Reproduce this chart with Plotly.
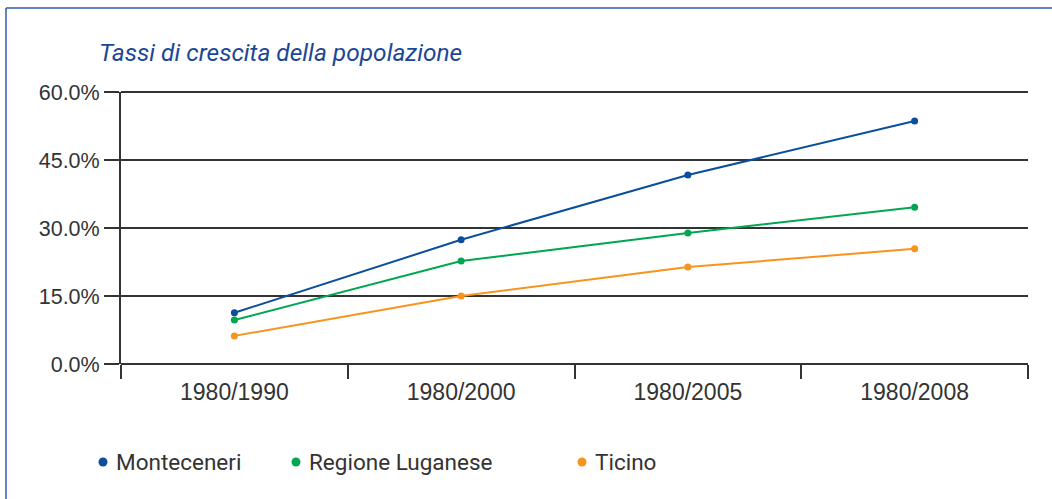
import plotly.graph_objects as go

categories = ["1980/1990", "1980/2000", "1980/2005", "1980/2008"]
monteceneri = [11.3, 27.4, 41.7, 53.6]
regione_luganese = [9.7, 22.7, 28.9, 34.6]
ticino = [6.2, 15.0, 21.4, 25.4]
y_ticks = [0, 15, 30, 45, 60]
y_tick_labels = ["0.0%", "15.0%", "30.0%", "45.0%", "60.0%"]

series = [
    ("Monteceneri", monteceneri, "#0b4f9c"),
    ("Regione Luganese", regione_luganese, "#00a651"),
    ("Ticino", ticino, "#f7941d"),
]

FONT = "Liberation Sans"
NARROW = "Roboto"
TXT = "#333333"
AX = "#333333"

fig = go.Figure()
for name, vals, col in series:
    fig.add_trace(go.Scatter(
        x=categories, y=vals, name=name, mode="lines+markers",
        line=dict(color=col, width=2), marker=dict(color=col, size=7),
        showlegend=False,
    ))

W, H = 1052, 499
L, R, T, B = 121, 24, 92, 135
pw, ph = W - L - R, H - T - B

def px(x):
    return (x - L) / pw

def py(y):
    return (H - B - y) / ph

annotations = [
    dict(text="<i>Tassi di crescita della popolazione</i>", xref="paper", yref="paper",
         x=px(97), y=py(52), xanchor="left", yanchor="middle", showarrow=False,
         font=dict(family=NARROW, size=24.5, color="#1b4796")),
]
shapes = [
    dict(type="line", xref="paper", yref="paper", x0=px(6), x1=px(1052), y0=py(8), y1=py(8),
         line=dict(color="#2f5db0", width=1.5)),
    dict(type="line", xref="paper", yref="paper", x0=px(6), x1=px(6), y0=py(8), y1=py(499),
         line=dict(color="#2f5db0", width=1.5)),
    # top gridline (plotly omits the gridline sitting on the range edge)
    dict(type="line", xref="paper", yref="paper", x0=0, x1=1, y0=1, y1=1,
         line=dict(color=AX, width=2), layer="below"),
]
legend_dot_x = [103, 296, 582]
r = 4.5
for (name, vals, col), lx in zip(series, legend_dot_x):
    shapes.append(dict(type="circle", xref="paper", yref="paper",
                       x0=px(lx - r), x1=px(lx + r), y0=py(462 - r), y1=py(462 + r),
                       fillcolor=col, line=dict(width=0)))
    annotations.append(dict(
        text=name, xref="paper", yref="paper", x=px(lx + 11), y=py(462),
        xanchor="left", yanchor="middle", showarrow=False,
        font=dict(family=NARROW, size=22.5, color=TXT)))

fig.update_layout(
    width=W, height=H,
    margin=dict(l=L, r=R, t=T, b=B),
    paper_bgcolor="white", plot_bgcolor="white",
    font=dict(family=FONT, size=21, color=TXT),
    annotations=annotations, shapes=shapes,
    showlegend=False,
)
fig.update_xaxes(
    type="category", range=[-0.5, 3.5], tickson="boundaries",
    ticks="outside", ticklen=14, tickwidth=2, tickcolor=AX,
    showgrid=False, showline=False, zeroline=False,
    ticklabelstandoff=12,
    tickfont=dict(family=FONT, size=23, color=TXT),
)
fig.update_yaxes(
    range=[0, 60], tickvals=y_ticks, ticktext=y_tick_labels,
    ticks="outside", ticklen=15, tickwidth=2, tickcolor=AX,
    showgrid=True, gridcolor=AX, gridwidth=2,
    zeroline=True, zerolinecolor=AX, zerolinewidth=2,
    showline=True, linecolor=AX, linewidth=2,
    tickfont=dict(family=FONT, size=21.5, color=TXT),
)

fig.write_html("out.html", config={"displayModeBar": False},
               post_script="document.body.style.margin='0px';")
